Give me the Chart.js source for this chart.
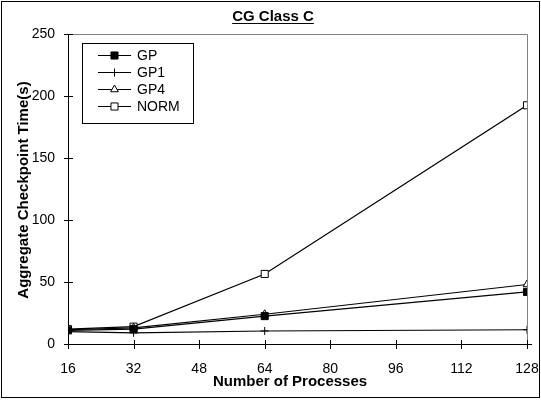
<!DOCTYPE html>
<html>
<head>
<meta charset="utf-8">
<script src="https://cdn.jsdelivr.net/npm/chart.js@4/dist/chart.umd.min.js"></script>
<style>
  html, body { margin: 0; padding: 0; background: #fff; }
  #wrap { width: 541px; height: 400px; position: relative; }
</style>
</head>
<body>
<div id="wrap"><canvas id="myChart" width="541" height="400"></canvas></div>
<script>
const procesos = [16, 32, 64, 128]
const gp   = [11, 12, 22.5, 42]
const gp1  = [10, 9, 10.5, 11.5]
const gp4  = [11.5, 13, 24, 48]
const norm = [12, 14, 56.5, 192.5]
const ticksX = [16, 32, 48, 64, 80, 96, 112, 128]
const ticksY = [0, 50, 100, 150, 200, 250]

const fuente = 'Arial, "Liberation Sans", sans-serif'

function serie(nombre, valores, estilo, radio, relleno){
    return {
        label: nombre,
        data: procesos.map((p, i) => ({x: p, y: valores[i]})),
        borderColor: '#000',
        borderWidth: 1.2,
        pointStyle: estilo,
        pointRadius: radio,
        pointHoverRadius: radio,
        pointBackgroundColor: relleno,
        pointBorderColor: '#000',
        pointBorderWidth: 1,
        tension: 0,
        fill: false
    }
}

// marco, titulos, marcas de eje y leyenda
const decoracion = {
    id: 'decoracion',
    beforeDraw(chart){
        const c = chart.ctx
        c.save()
        c.fillStyle = '#fff'
        c.fillRect(0, 0, chart.width, chart.height)
        c.strokeStyle = '#000'
        c.lineWidth = 1
        c.strokeRect(1.5, 1.5, chart.width - 3, chart.height - 4)
        c.restore()
    },
    beforeDatasetsDraw(chart){
        const c = chart.ctx
        const a = chart.chartArea
        c.save()
        c.strokeStyle = '#808080'
        c.lineWidth = 1
        c.beginPath()
        c.moveTo(a.left, a.top + 0.5)
        c.lineTo(a.right + 0.5, a.top + 0.5)
        c.lineTo(a.right + 0.5, a.bottom)
        c.stroke()
        // marcas que cruzan los ejes
        c.strokeStyle = '#000'
        const sx = chart.scales.x, sy = chart.scales.y
        c.beginPath()
        ticksX.forEach(v => {
            const px = Math.round(sx.getPixelForValue(v)) + 0.5
            c.moveTo(px, a.bottom - 4)
            c.lineTo(px, a.bottom + 5)
        })
        ticksY.forEach(v => {
            const py = Math.round(sy.getPixelForValue(v)) + 0.5
            c.moveTo(a.left - 4, py)
            c.lineTo(a.left + 5, py)
        })
        c.moveTo(a.left + 0.5, a.top)
        c.lineTo(a.left + 0.5, a.bottom + 5)
        c.moveTo(a.left - 4, a.bottom + 0.5)
        c.lineTo(a.right + 5, a.bottom + 0.5)
        c.stroke()
        c.restore()
    },
    afterDraw(chart){
        const c = chart.ctx
        c.save()
        c.fillStyle = '#000'
        c.strokeStyle = '#000'
        // titulo subrayado
        c.font = 'bold 15px ' + fuente
        c.textAlign = 'center'
        c.textBaseline = 'alphabetic'
        const titulo = 'CG Class C'
        c.fillText(titulo, 273, 21)
        const w = c.measureText(titulo).width
        c.lineWidth = 1
        c.beginPath()
        c.moveTo(273 - w / 2, 23.5)
        c.lineTo(273 + w / 2, 23.5)
        c.stroke()
        // titulos de ejes
        c.textBaseline = 'middle'
        c.fillText('Number of Processes', 290, 382)
        c.translate(24, 190)
        c.rotate(-Math.PI / 2)
        c.fillText('Aggregate Checkpoint Time(s)', 0, 0)
        c.setTransform(1, 0, 0, 1, 0, 0)
        // leyenda
        c.fillStyle = '#fff'
        c.fillRect(82, 43, 111, 80)
        c.strokeRect(82.5, 43.5, 111, 80)
        c.font = '14px ' + fuente
        c.textAlign = 'left'
        chart.data.datasets.forEach((ds, i) => {
            const y = 55.5 + i * 17
            c.strokeStyle = '#000'
            c.lineWidth = 1
            c.beginPath()
            c.moveTo(98, y)
            c.lineTo(131, y)
            c.stroke()
            c.fillStyle = ds.pointBackgroundColor
            Chart.helpers.drawPoint(c, {
                pointStyle: ds.pointStyle,
                radius: ds.pointRadius,
                rotation: 0,
                borderWidth: 1
            }, 114.5, y)
            c.fillStyle = '#000'
            c.fillText(ds.label, 137, y + 1)
        })
        c.restore()
    }
}

function grafico_lineas(){

    const ctx = document.getElementById('myChart')

    new Chart(ctx, {
        type: 'line',
        data: {
            datasets: [
                serie('GP', gp, 'rect', 5, '#000'),
                serie('GP1', gp1, 'cross', 4, '#000'),
                serie('GP4', gp4, 'triangle', 4.5, '#fff'),
                serie('NORM', norm, 'rect', 5, '#fff')
            ]
        },
        options: {
            responsive: false,
            animation: false,
            events: [],
            layout: { padding: { left: 0, top: 34, right: 14, bottom: 0 } },
            plugins: {
                legend: { display: false },
                title: { display: false },
                tooltip: { enabled: false }
            },
            scales: {
                x: {
                    type: 'linear',
                    min: 16,
                    max: 128,
                    afterFit: s => { s.height = 56; s.paddingLeft = 0; s.paddingRight = 0 },
                    afterBuildTicks: s => { s.ticks = ticksX.map(v => ({value: v})) },
                    grid: { display: false, drawTicks: false },
                    border: { display: false },
                    ticks: {
                        color: '#000',
                        padding: 17,
                        maxRotation: 0,
                        font: { family: fuente, size: 14 }
                    }
                },
                y: {
                    min: 0,
                    max: 250,
                    afterFit: s => { s.width = 68; s.paddingTop = 0; s.paddingBottom = 0 },
                    afterBuildTicks: s => { s.ticks = ticksY.map(v => ({value: v})) },
                    grid: { display: false, drawTicks: false },
                    border: { display: false },
                    ticks: {
                        color: '#000',
                        padding: 13,
                        font: { family: fuente, size: 14 }
                    }
                }
            }
        },
        plugins: [decoracion]
    })

}

grafico_lineas()
</script>
</body>
</html>
